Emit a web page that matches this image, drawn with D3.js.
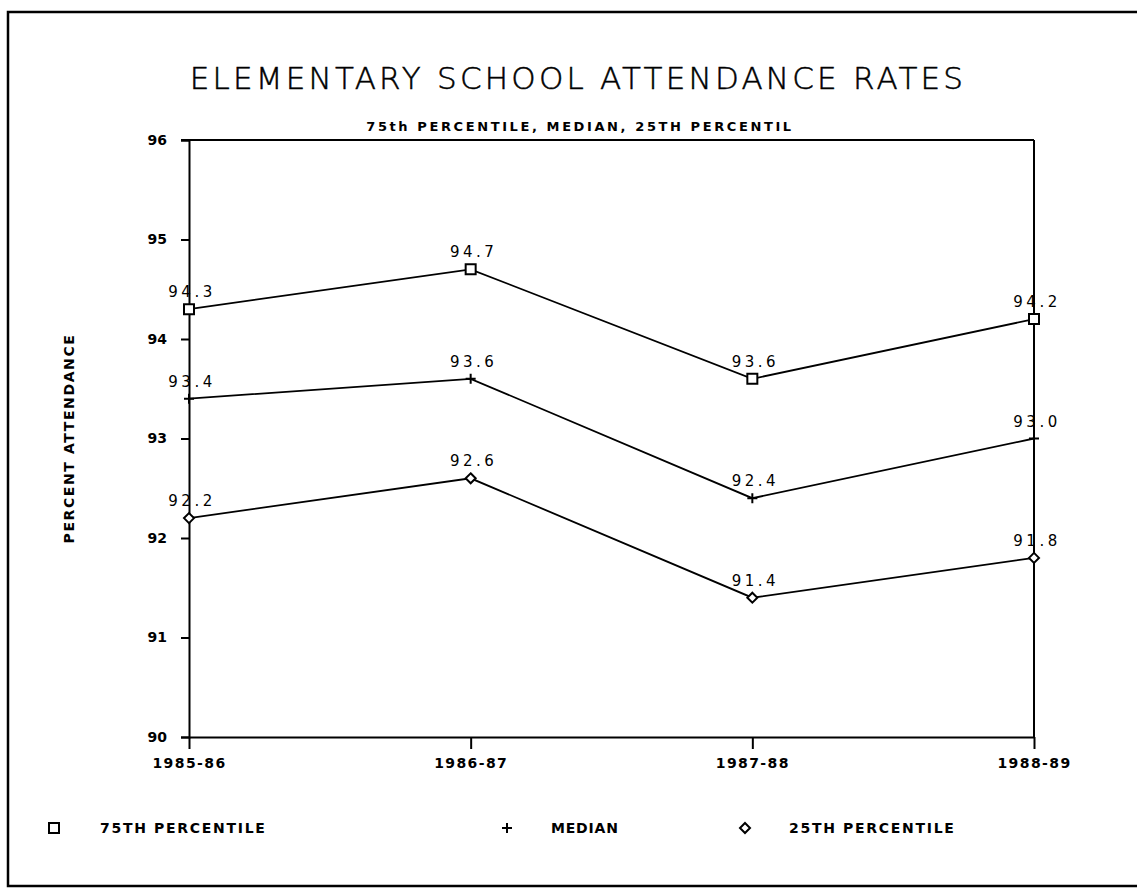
<!DOCTYPE html>
<html>
<head>
<meta charset="utf-8">
<script src="https://cdn.jsdelivr.net/npm/d3@7"></script>
<style>
  body { margin: 0; background: #fff; }
  svg { display: block; }
</style>
</head>
<body>
<svg id="chart"></svg>
<script>
// Data
const years = ["1985-86", "1986-87", "1987-88", "1988-89"];
const p75 = [94.3, 94.7, 93.6, 94.2];
const median = [93.4, 93.6, 92.4, 93.0];
const p25 = [92.2, 92.6, 91.4, 91.8];
const yTicks = [90, 91, 92, 93, 94, 95, 96];
const seriesNames = ["75TH PERCENTILE", "MEDIAN", "25TH PERCENTILE"];

const width = 1137;
const height = 889;
const plotLeft = 189, plotRight = 1034, plotTop = 140, plotBottom = 737;

const svg = d3.select("#chart")
    .attr("width", width)
    .attr("height", height);

// outer frame (right side runs off the page)
svg.append("rect")
    .attr("x", 8).attr("y", 12)
    .attr("width", width + 20).attr("height", 874)
    .attr("fill", "none")
    .attr("stroke", "#000")
    .attr("stroke-width", 2.5);

const x = d3.scalePoint().domain(years).range([plotLeft, plotRight]);
const y = d3.scaleLinear().domain([90, 96]).range([plotBottom, plotTop]);

const labelFont = "'DejaVu Sans', sans-serif";

// TITLE
svg.append("text")
    .attr("x", 578).attr("y", 89)
    .attr("text-anchor", "middle")
    .attr("font-family", labelFont)
    .attr("font-weight", 200)
    .attr("font-size", 31)
    .attr("letter-spacing", 3.2)
    .attr("stroke", "#000")
    .attr("stroke-width", 0.5)
    .text("ELEMENTARY SCHOOL ATTENDANCE RATES");

svg.append("text")
    .attr("x", 580).attr("y", 131)
    .attr("text-anchor", "middle")
    .attr("font-family", labelFont)
    .attr("font-weight", "bold")
    .attr("font-size", 13)
    .attr("letter-spacing", 2.6)
    .text("75th PERCENTILE, MEDIAN, 25TH PERCENTIL");

// plot frame: top and right lines
svg.append("line")
    .attr("x1", plotLeft - 8).attr("x2", plotRight)
    .attr("y1", plotTop).attr("y2", plotTop)
    .attr("stroke", "#000").attr("stroke-width", 2);
svg.append("line")
    .attr("x1", plotRight).attr("x2", plotRight)
    .attr("y1", plotTop).attr("y2", plotBottom)
    .attr("stroke", "#000").attr("stroke-width", 2);

// Y AXIS
const yAxis = svg.append("g")
    .attr("transform", "translate(" + plotLeft + ",0)")
    .call(d3.axisLeft(y).tickValues(yTicks).tickFormat(d3.format("d")).tickSize(8).tickPadding(14));
yAxis.select(".domain").attr("stroke-width", 2);
yAxis.selectAll("line").attr("stroke-width", 2);
yAxis.selectAll("text")
    .attr("font-family", labelFont)
    .attr("font-weight", "bold")
    .attr("font-size", 14)
    .attr("fill", "#000");

// X AXIS
const xAxis = svg.append("g")
    .attr("transform", "translate(0," + plotBottom + ")")
    .call(d3.axisBottom(x).tickSize(12).tickSizeOuter(0).tickPadding(9));
xAxis.select(".domain").attr("stroke-width", 2);
xAxis.selectAll("line").attr("stroke-width", 2);
xAxis.selectAll("text")
    .attr("font-family", labelFont)
    .attr("font-weight", "bold")
    .attr("font-size", 14)
    .attr("letter-spacing", 1.4)
    .attr("fill", "#000");

// Y AXIS TITLE
svg.append("text")
    .attr("transform", "translate(74," + y(93) + ") rotate(-90)")
    .attr("text-anchor", "middle")
    .attr("font-family", labelFont)
    .attr("font-weight", "bold")
    .attr("font-size", 14)
    .attr("letter-spacing", 1.6)
    .text("PERCENT ATTENDANCE");

// lines and markers
const squarePath = "M-5,-5H5V5H-5Z";
const plusPath = "M-5,0H5M0,-5V5";
const diamondPath = "M0,-5L5,0L0,5L-5,0Z";

const series = [
    { values: p75, marker: squarePath },
    { values: median, marker: plusPath },
    { values: p25, marker: diamondPath }
];

const line = d3.line()
    .x((d, i) => x(years[i]))
    .y(d => y(d));

series.forEach(s => {
    svg.append("path")
        .datum(s.values)
        .attr("d", line)
        .attr("fill", "none")
        .attr("stroke", "#000")
        .attr("stroke-width", 1.8);

    const g = svg.append("g");
    g.selectAll("path.m")
        .data(s.values)
        .enter()
        .append("path")
        .attr("class", "m")
        .attr("transform", (d, i) => "translate(" + x(years[i]) + "," + y(d) + ")")
        .attr("d", s.marker)
        .attr("fill", "#fff")
        .attr("stroke", "#000")
        .attr("stroke-width", 2);

    g.selectAll("text")
        .data(s.values)
        .enter()
        .append("text")
        .attr("x", (d, i) => x(years[i]) + 3)
        .attr("y", d => y(d) - 12)
        .attr("text-anchor", "middle")
        .attr("font-family", labelFont)
        .attr("font-size", 15)
        .attr("letter-spacing", 3.5)
        .text(d => d3.format(".1f")(d));
});

// LEGEND
const legendX = [54, 507, 745];
const legend = svg.append("g");
series.forEach((s, i) => {
    legend.append("path")
        .attr("transform", "translate(" + legendX[i] + ",828)")
        .attr("d", s.marker)
        .attr("fill", "#fff")
        .attr("stroke", "#000")
        .attr("stroke-width", 2);
    legend.append("text")
        .attr("x", legendX[i] + (i === 0 ? 46 : 44))
        .attr("y", 833)
        .attr("font-family", labelFont)
        .attr("font-weight", "bold")
        .attr("font-size", 14)
        .attr("letter-spacing", i === 1 ? 0.8 : 1.7)
        .text(seriesNames[i]);
});
</script>
</body>
</html>
